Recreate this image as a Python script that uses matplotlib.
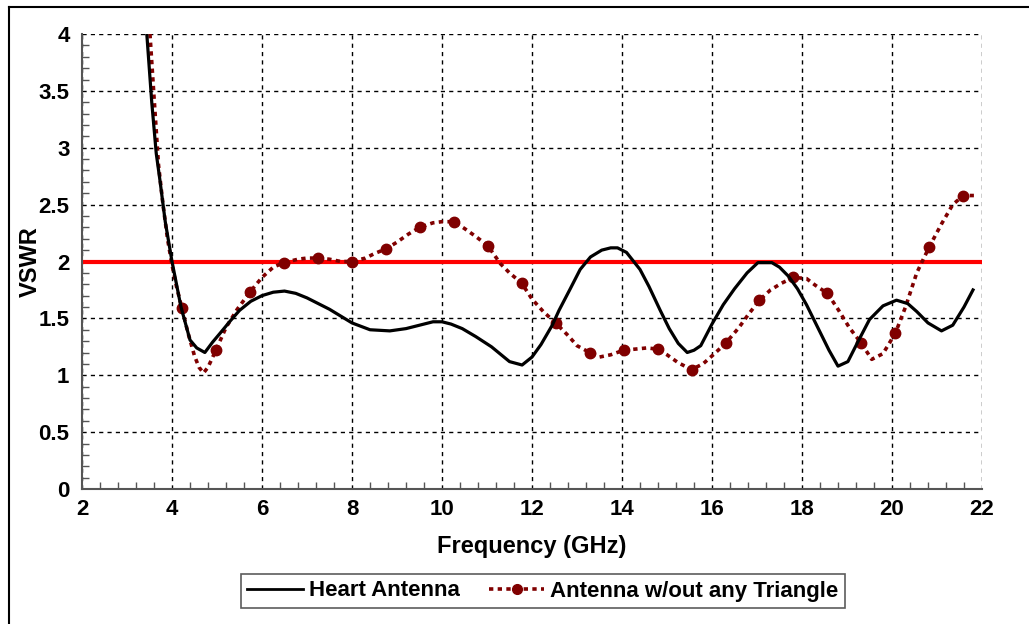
import matplotlib.pyplot as plt
from matplotlib.ticker import MultipleLocator
from matplotlib.lines import Line2D

# Heart antenna VSWR vs frequency
heart_freq = [3.44, 3.55, 3.65, 3.73, 3.85, 4.0, 4.2, 4.4, 4.55, 4.73,
              4.9, 5.07, 5.3, 5.5, 5.75, 6.0, 6.25, 6.5, 6.75, 7.0,
              7.5, 8.0, 8.4, 8.84, 9.2, 9.5, 9.8, 10.0, 10.2, 10.45,
              10.75, 11.1, 11.5, 11.78, 12.0, 12.2, 12.45, 12.6, 12.85, 13.07,
              13.3, 13.55, 13.75, 13.9, 14.1, 14.4, 14.6, 14.85, 15.05, 15.25,
              15.45, 15.6, 15.75, 16.0, 16.25, 16.5, 16.78, 17.02, 17.33, 17.5,
              17.7, 17.9, 18.1, 18.35, 18.6, 18.8, 19.02, 19.25, 19.5, 19.8,
              20.1, 20.35, 20.55, 20.8, 21.1, 21.35, 21.6, 21.8]
heart_vswr = [4.0, 3.4, 2.95, 2.72, 2.35, 2.0, 1.6, 1.31, 1.24, 1.20,
              1.29, 1.37, 1.48, 1.57, 1.65, 1.70, 1.73, 1.74, 1.72, 1.68,
              1.58, 1.46, 1.40, 1.39, 1.41, 1.44, 1.47, 1.47, 1.45, 1.41,
              1.34, 1.25, 1.12, 1.09, 1.16, 1.27, 1.44, 1.57, 1.76, 1.93,
              2.04, 2.10, 2.12, 2.12, 2.08, 1.93, 1.78, 1.57, 1.41, 1.28,
              1.20, 1.22, 1.26, 1.45, 1.62, 1.76, 1.90, 1.99, 1.99, 1.95,
              1.87, 1.76, 1.62, 1.42, 1.22, 1.08, 1.12, 1.30, 1.49, 1.61,
              1.66, 1.63, 1.56, 1.46, 1.39, 1.44, 1.60, 1.75]

# antenna without triangle
plain_freq = [3.51, 3.6, 3.7, 3.8, 3.9, 4.0, 4.1, 4.22, 4.35, 4.5,
              4.6, 4.7, 4.8, 4.975, 5.2, 5.45, 5.73, 6.0, 6.25, 6.485,
              6.8, 7.0, 7.24, 7.5, 7.75, 7.995, 8.3, 8.5, 8.75, 9.0,
              9.25, 9.505, 9.8, 10.0, 10.26, 10.5, 10.75, 11.015, 11.3, 11.5,
              11.77, 12.0, 12.25, 12.525, 12.8, 13.0, 13.28, 13.5, 13.75, 14.035,
              14.3, 14.55, 14.79, 15.0, 15.25, 15.545, 15.8, 16.0, 16.3, 16.6,
              16.8, 17.055, 17.3, 17.55, 17.81, 18.1, 18.3, 18.565, 18.8, 19.05,
              19.32, 19.55, 19.8, 20.075, 20.3, 20.55, 20.83, 21.1, 21.35, 21.585,
              21.82]
plain_vswr = [4.0, 3.45, 2.85, 2.5, 2.2, 1.97, 1.78, 1.59, 1.38, 1.17,
              1.07, 1.02, 1.07, 1.22, 1.42, 1.58, 1.73, 1.86, 1.95, 1.99,
              2.02, 2.03, 2.03, 2.02, 2.0, 2.0, 2.03, 2.07, 2.11, 2.17,
              2.24, 2.30, 2.34, 2.35, 2.35, 2.29, 2.22, 2.14, 1.98, 1.9,
              1.81, 1.67, 1.56, 1.46, 1.35, 1.26, 1.20, 1.16, 1.18, 1.22,
              1.23, 1.24, 1.23, 1.18, 1.11, 1.05, 1.1, 1.17, 1.28, 1.42,
              1.53, 1.66, 1.75, 1.81, 1.86, 1.85, 1.79, 1.72, 1.58, 1.42,
              1.28, 1.14, 1.19, 1.37, 1.6, 1.9, 2.13, 2.33, 2.5, 2.58,
              2.58]
# which points carry a marker
plain_marks = [7, 13, 16, 19, 22, 25, 28, 31, 34, 37, 40, 43, 46, 49,
               52, 55, 58, 61, 64, 67, 70, 73, 76, 79]

LIMIT = 2.0
DARK_RED = '#800000'


def main():
    '''
    draws the two VSWR curves with the 2:1 limit line and saves out.png
    '''
    plt.rcParams['font.family'] = ['Liberation Sans', 'DejaVu Sans']
    plt.rcParams['font.weight'] = 'bold'
    fig = plt.figure(figsize=(10.29, 6.24), dpi=100)
    ax = fig.add_axes([82 / 1029, 1 - 489 / 624, 900 / 1029, 455 / 624])

    ax.plot(heart_freq, heart_vswr, color='black', lw=2.3, zorder=4)
    ax.plot(plain_freq, plain_vswr, color=DARK_RED, lw=2.6,
            linestyle=(0, (1.2, 1.2)), marker='o', markersize=7.5,
            markevery=plain_marks, zorder=3)
    ax.axhline(LIMIT, color='red', lw=3, zorder=2)

    ax.set_xlim(2, 22)
    ax.set_ylim(0, 4)
    ax.xaxis.set_major_locator(MultipleLocator(2))
    ax.xaxis.set_minor_locator(MultipleLocator(0.4))
    ax.yaxis.set_minor_locator(MultipleLocator(0.1))
    ax.set_yticks([0, 0.5, 1, 1.5, 2, 2.5, 3, 3.5, 4])
    ax.set_yticklabels(['0', '0.5', '1', '1.5', '2', '2.5', '3', '3.5', '4'])
    ax.tick_params(which='major', length=0, labelsize=16)
    ax.tick_params(axis='x', which='major', pad=7)
    ax.tick_params(axis='y', which='major', pad=9)
    ax.tick_params(which='minor', direction='in', length=5, width=1,
                   color='#555555')
    ax.grid(True, which='major', color='black', linestyle=(0, (3, 3)),
            lw=1)

    for side in ['top', 'right']:
        ax.spines[side].set_visible(False)
    for side in ['left', 'bottom']:
        ax.spines[side].set_color('#555555')
        ax.spines[side].set_linewidth(1.5)

    ax.set_xlabel('Frequency (GHz)', fontsize=17, fontweight='bold')
    ax.set_ylabel('VSWR', fontsize=17, fontweight='bold')
    ax.xaxis.set_label_coords(0.5, -(547 - 489) / 455, transform=ax.transAxes)
    ax.yaxis.set_label_coords(-(82 - 30) / 900, 0.5, transform=ax.transAxes)
    ax.xaxis.label.set_va('center')
    ax.yaxis.label.set_va('center')

    handles = [Line2D([], [], color='black', lw=2),
               Line2D([], [], color=DARK_RED, lw=2.6,
                      linestyle=(0, (1.2, 1.2)), marker='o', markersize=7)]
    leg = fig.legend(handles, ['Heart Antenna', 'Antenna w/out any Triangle'],
                     loc='center', bbox_to_anchor=(543 / 1029, 1 - 591 / 624),
                     ncol=2, fontsize=16, frameon=True, fancybox=False,
                     handlelength=2.5, columnspacing=1.3, borderpad=0.3,
                     handletextpad=0.27)
    leg.get_frame().set_edgecolor('#333333')
    leg.get_frame().set_linewidth(1.2)

    # frame line around the outer figure (top and left edges)
    fig.add_artist(Line2D([9 / 1029, 1.0], [1 - 7 / 624, 1 - 7 / 624],
                          color='black', lw=1.5))
    fig.add_artist(Line2D([9 / 1029, 9 / 1029], [0, 1 - 7 / 624],
                          color='black', lw=1.5))

    fig.savefig('out.png', dpi=100)


if __name__ == '__main__':
    main()
